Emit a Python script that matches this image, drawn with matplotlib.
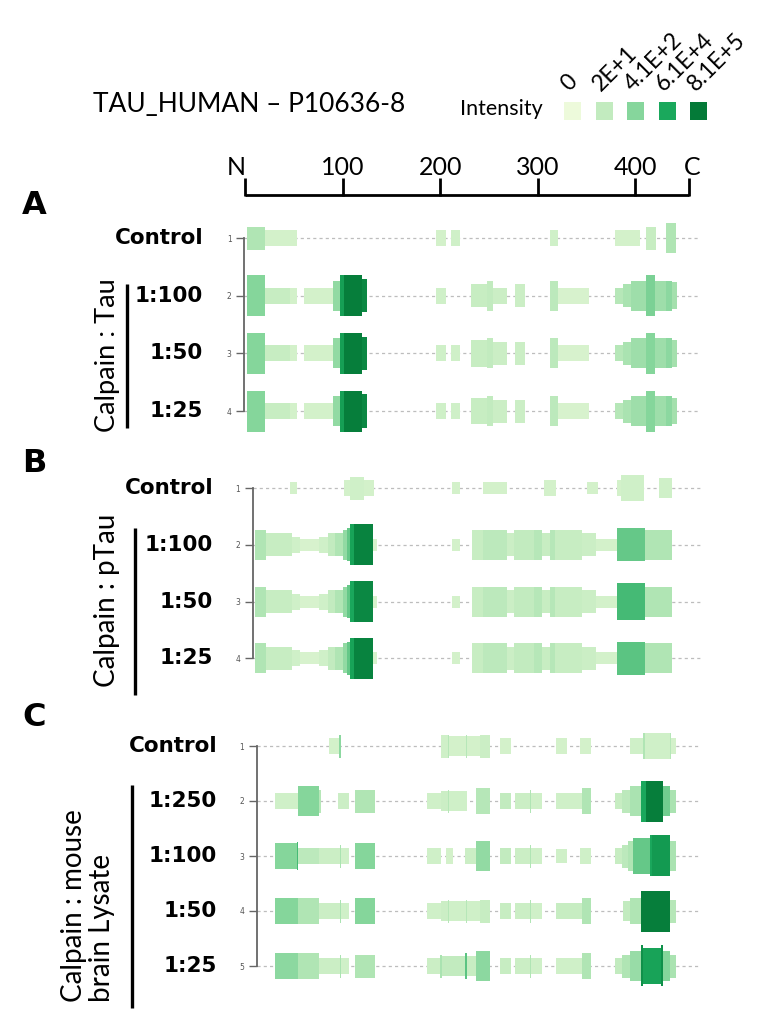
import numpy as np
import matplotlib
matplotlib.use("Agg")
import matplotlib.pyplot as plt
from matplotlib.colors import LinearSegmentedColormap

# ---- data: peptide coverage segments (start, end, depth, intensity level 0-4) ----
legend_labels = ["0", "2E+1", "4.1E+2", "6.1E+4", "8.1E+5"]
legend_colors = ["#edfadb", "#c2ebbf", "#86d69c", "#1aa85c", "#047a38"]
ruler_ticks = [0, 100, 200, 300, 400, 455]
ruler_labels = ["N", "100", "200", "300", "400", "C"]

rows_a = ["Control", "1:100", "1:50", "1:25"]
seg_a = [
    [(2, 20, 3, 1.3), (20, 53, 2, 0.6), (196, 206, 2, 0.6), (211, 220, 2, 0.7), (312, 321, 2, 0.7),
     (379, 405, 2, 0.6), (411, 421, 3, 0.9), (431, 442, 4, 1.3)],
    [(2, 20, 5, 2.0), (20, 46, 2, 0.9), (46, 53, 2, 0.6), (60, 90, 2, 0.6), (90, 97, 4, 1.8),
     (97, 101, 5, 3.2), (101, 120, 5, 3.9), (120, 125, 4.3, 3.7), (196, 206, 2, 0.7), (232, 248, 3, 0.9),
     (248, 254, 4, 1.0), (254, 268, 2, 0.8), (277, 287, 3, 0.8), (312, 321, 4, 1.1), (321, 352, 2, 0.5),
     (379, 387, 2, 1.2), (387, 395, 3, 1.4), (395, 411, 4, 1.6), (411, 420, 5, 2.1), (420, 431, 4, 1.6),
     (431, 437, 4, 1.9), (437, 443, 3.5, 1.5)],
    [(2, 20, 5, 2.0), (20, 46, 2, 0.9), (46, 53, 2, 0.6), (60, 90, 2, 0.6), (90, 97, 4, 1.8),
     (97, 101, 5, 3.2), (101, 120, 5, 3.9), (120, 125, 4.3, 3.7), (196, 206, 2, 0.7), (211, 220, 2, 0.7),
     (232, 248, 3.5, 0.9), (248, 254, 4, 1.0), (254, 268, 3, 0.8), (277, 287, 3, 0.8), (312, 321, 4, 1.1),
     (321, 352, 2, 0.5), (379, 387, 2, 1.2), (387, 395, 3, 1.4), (395, 411, 4, 1.6), (411, 420, 5, 2.0),
     (420, 431, 4, 1.6), (431, 437, 4, 1.9), (437, 443, 3.5, 1.5)],
    [(2, 20, 5, 2.0), (20, 46, 2, 0.9), (46, 53, 2, 0.6), (60, 90, 2, 0.6), (90, 97, 4, 1.8),
     (97, 101, 5, 3.2), (101, 120, 5, 3.9), (120, 125, 4.3, 3.7), (196, 206, 2, 0.7), (211, 220, 2, 0.7),
     (232, 248, 3.5, 0.9), (248, 254, 4, 1.0), (254, 268, 3, 0.8), (277, 287, 3, 0.8), (312, 321, 4, 1.1),
     (321, 352, 2, 0.5), (379, 387, 2, 1.2), (387, 395, 3, 1.4), (395, 411, 4, 1.6), (411, 420, 5, 2.0),
     (420, 431, 4, 1.6), (431, 437, 4, 1.9), (437, 443, 3.5, 1.5)],
]

rows_b = ["Control", "1:100", "1:50", "1:25"]
seg_b = [
    [(46, 53, 1, 0.6), (101, 108, 2, 0.6), (108, 122, 3, 0.7), (122, 132, 2, 0.6), (212, 220, 1, 0.6),
     (244, 268, 1, 0.6), (306, 319, 2, 0.6), (350, 362, 1, 0.6), (381, 385, 2, 0.6), (385, 409, 3.3, 0.7),
     (424, 437, 2.7, 0.7)],
    [(10, 22, 4, 1.3), (22, 48, 3, 0.9), (48, 56, 2, 0.7), (56, 76, 1, 0.5), (76, 85, 2, 0.7),
     (85, 92, 3, 1.0), (92, 100, 3, 1.3), (100, 104, 4, 1.8), (104, 108, 4.3, 2.3), (108, 112, 5, 3.1),
     (112, 131, 5, 3.8), (131, 135, 1, 0.5), (212, 220, 1, 0.6), (233, 244, 4, 0.9), (244, 268, 4, 1.1),
     (268, 276, 3, 0.8), (276, 296, 4, 1.0), (296, 304, 4, 1.2), (304, 312, 3, 0.9), (312, 318, 4, 1.2),
     (318, 345, 4, 0.9), (345, 360, 3, 0.8), (360, 381, 1, 0.6), (381, 410, 4.3, 2.3), (410, 437, 4, 1.3)],
    [(10, 22, 4, 1.3), (22, 48, 3, 0.9), (48, 56, 2, 0.7), (56, 76, 1, 0.5), (76, 85, 2, 0.7),
     (85, 92, 3, 1.0), (92, 100, 3, 1.3), (100, 104, 4, 1.8), (104, 108, 4.3, 2.3), (108, 112, 5, 3.0),
     (112, 131, 5, 3.7), (131, 135, 1, 0.5), (212, 220, 1, 0.6), (233, 244, 4, 0.9), (244, 268, 4, 1.1),
     (268, 276, 3, 0.8), (276, 296, 4, 1.0), (296, 304, 4, 1.2), (304, 312, 3, 0.9), (312, 318, 4, 1.2),
     (318, 345, 4, 0.9), (345, 360, 3, 0.8), (360, 381, 1, 0.6), (381, 410, 4.6, 2.6), (410, 437, 4, 1.3)],
    [(10, 22, 4, 1.3), (22, 48, 3, 0.9), (48, 56, 2, 0.7), (56, 76, 1, 0.5), (76, 85, 2, 0.7),
     (85, 92, 3, 1.0), (92, 100, 3, 1.3), (100, 104, 4, 1.8), (104, 108, 4.3, 2.3), (108, 112, 5, 3.1),
     (112, 131, 5, 3.8), (131, 135, 1, 0.5), (212, 220, 1, 0.6), (233, 244, 4, 0.9), (244, 268, 4, 1.1),
     (268, 276, 3, 0.8), (276, 296, 4, 1.0), (296, 304, 4, 1.2), (304, 312, 3, 0.9), (312, 318, 4, 1.2),
     (318, 345, 4, 0.9), (345, 360, 3, 0.8), (360, 381, 1, 0.6), (381, 410, 4.3, 2.4), (410, 437, 4, 1.3)],
]

rows_c = ["Control", "1:250", "1:100", "1:50", "1:25"]
seg_c = [
    [(86, 96, 2, 0.6), (96, 98, 3, 1.9), (201, 208, 3, 0.7), (208, 209.5, 3, 1.2), (209.5, 226, 2.5, 0.6),
     (226, 227.5, 3, 1.2), (227.5, 241, 2.5, 0.6), (241, 251, 3, 0.8), (261, 273, 2, 0.6), (319, 330, 2, 0.6),
     (343, 355, 2, 0.6), (394, 408, 2, 0.7), (408, 409.5, 3.3, 1.3), (409.5, 435, 3.3, 0.7),
     (435, 436.5, 3.3, 1.2), (436.5, 442, 2, 0.6)],
    [(31, 54, 2, 0.7), (54, 76, 4, 2.0), (76, 78, 3, 1.2), (95, 107, 2, 0.8), (113, 133, 3, 1.3),
     (186, 201, 2, 0.7), (201, 208, 2.5, 0.8), (208, 209.5, 3, 1.2), (209.5, 227, 2.5, 0.7), (237, 251, 3.5, 1.2),
     (261, 273, 2, 1.0), (277, 292, 2, 0.8), (292, 293.5, 3, 1.3), (293.5, 304, 2, 0.7), (319, 345, 2, 0.7),
     (345, 355, 3.5, 1.3), (379, 386, 2, 0.9), (386, 394, 3, 1.1), (394, 406, 4, 1.4), (406, 411, 5, 3.0),
     (411, 428, 5, 3.9), (428, 435, 4, 2.2), (435, 442, 3, 1.4)],
    [(31, 53, 3.5, 2.0), (53, 54.5, 3.6, 2.6), (54.5, 76, 2, 1.1), (76, 97, 2, 0.8), (97, 98.5, 3, 1.4),
     (98.5, 107, 2, 0.7), (113, 133, 3.5, 2.0), (186, 201, 2, 0.7), (206, 213, 2, 0.6), (225, 237, 2, 0.8),
     (237, 251, 4, 1.8), (261, 273, 2, 1.0), (277, 292, 2, 0.8), (292, 293.5, 3, 1.3), (293.5, 304, 2, 0.7),
     (319, 330, 1.5, 0.7), (343, 355, 2, 0.7), (379, 386, 2, 0.9), (386, 392, 3, 1.1), (392, 398, 4, 1.3),
     (398, 415, 4.5, 2.3), (415, 417, 5, 3.0), (417, 435, 5, 3.3), (435, 442, 4, 1.4)],
    [(31, 54, 3.5, 2.0), (54, 76, 3.5, 1.3), (76, 97, 2, 0.8), (97, 98.5, 3, 1.4), (98.5, 107, 2, 0.7),
     (113, 133, 3.5, 2.0), (186, 201, 2, 0.7), (201, 208, 2.5, 0.8), (208, 209.5, 3, 1.2), (209.5, 226, 2.5, 0.7),
     (226, 227.5, 3, 1.2), (227.5, 241, 2.5, 0.7), (241, 251, 3, 0.9), (261, 273, 2, 0.9), (277, 292, 2, 0.8),
     (292, 293.5, 3, 1.3), (293.5, 304, 2, 0.7), (319, 345, 2, 0.9), (345, 355, 3.5, 1.3), (387, 394, 2.5, 1.0),
     (394, 406, 3.5, 1.3), (406, 435, 5, 3.9), (435, 442, 3, 1.2)],
    [(31, 54, 3.5, 1.9), (54, 76, 3.5, 1.3), (76, 97, 2, 0.8), (97, 98.5, 3, 1.4), (98.5, 107, 2, 0.7),
     (113, 133, 3, 1.3), (186, 200, 2, 0.8), (200, 201.5, 3, 1.4), (201.5, 225, 2.5, 1.0), (225, 227, 3.5, 2.4),
     (227, 237, 2.5, 0.9), (237, 251, 4, 1.9), (261, 273, 2, 0.9), (277, 292, 2, 0.8), (292, 293.5, 3, 1.3),
     (293.5, 304, 2, 0.7), (319, 345, 2, 0.7), (345, 355, 3.5, 1.3), (379, 386, 2, 1.0), (386, 394, 3, 1.3),
     (394, 406, 4, 1.7), (406, 408, 5, 3.5), (408, 426, 4.5, 3.1), (426, 428, 5, 3.5), (428, 435, 4, 2.0),
     (435, 442, 3, 1.4)],
]

# ---- layout helpers (pixel coordinates, origin top-left) ----
W, H = 777, 1030
fig = plt.figure(figsize=(W / 100, H / 100), dpi=100)
cmap = LinearSegmentedColormap.from_list("cov", legend_colors)

X0_PX, PX_PER_RES = 245, 0.976
XL, XR = 200, 710
xlim = ((XL - X0_PX) / PX_PER_RES, (XR - X0_PX) / PX_PER_RES)


def px_axes(x0, y0, x1, y1):
    return fig.add_axes([x0 / W, 1 - y1 / H, (x1 - x0) / W, (y1 - y0) / H])


def depth_px(d):
    return np.interp(d, [1, 2, 3, 4, 5], [12, 16, 23, 30, 41])


def draw_panel(segs, y_first, spacing, bracket_res):
    n = len(segs)
    ax = px_axes(XL, y_first - 0.6 * spacing, XR, y_first + (n - 0.4) * spacing)
    ax.set_xlim(*xlim)
    ax.set_ylim(n + 0.6, 0.4)
    ax.patch.set_alpha(0)
    rows = np.arange(1, n + 1)
    ax.hlines(rows, bracket_res, 466, colors="#bdbdbd", linestyles=(0, (2.5, 2.5)),
              linewidth=0.9, zorder=1)
    for r, row in zip(rows, segs):
        s, e, d, v = (np.array(t, dtype=float) for t in zip(*row))
        ax.barh(r, e - s, left=s, height=depth_px(d) / spacing, color=cmap(v / 4),
                linewidth=0, zorder=2)
    for side in ["top", "right", "bottom"]:
        ax.spines[side].set_visible(False)
    ax.spines["left"].set_position(("data", bracket_res))
    ax.spines["left"].set_bounds(1, n)
    ax.spines["left"].set_color("#666666")
    ax.spines["left"].set_linewidth(1.3)
    ax.set_xticks([])
    ax.set_yticks(rows)
    ax.set_yticklabels([str(r) for r in rows])
    ax.tick_params(axis="y", length=6, width=1, color="#666666", labelsize=5.5,
                   labelcolor="#555555", pad=3)
    return ax


# overlay for text in pixel space
ov = px_axes(0, 0, W, H)
ov.set_xlim(0, W)
ov.set_ylim(H, 0)
ov.axis("off")

LATO = ["Lato", "DejaVu Sans"]

ov.text(93, 105, "TAU_HUMAN – P10636-8", fontsize=19, family=LATO, ha="left", va="center")
ov.text(460, 109, "Intensity", fontsize=15.5, family=LATO, ha="left", va="center")
leg_x = 564 + np.arange(len(legend_colors)) * 31.6
ov.bar(leg_x, 18, bottom=102, width=17, align="edge", color=legend_colors, linewidth=0)
for x, lab in zip(leg_x, legend_labels):
    ov.text(x + 8, 95, lab, fontsize=16.5, family=LATO, rotation=45, ha="left", va="bottom",
            rotation_mode="anchor")

# ruler N ... C
ru = px_axes(XL, 140, XR, 205)
ru.set_xlim(*xlim)
ru.set_ylim(205, 140)
ru.axis("off")
ru.plot([ruler_ticks[0], ruler_ticks[-1]], [195, 195], color="black", lw=2, solid_capstyle="butt")
ru.vlines(ruler_ticks, 178, 196, color="black", lw=2)
for t, lab in zip(ruler_ticks, ruler_labels):
    ha = "right" if lab == "N" else "center"
    ru.text(t + (1 if lab == "N" else 3 if lab == "C" else 0), 175, lab, fontsize=18,
            family=LATO, ha=ha, va="baseline")

# panels
panels = [
    ("A", rows_a, seg_a, 238, 57.7, -1, 205, 203),
    ("B", rows_b, seg_b, 488, 56.8, 8, 463, 213),
    ("C", rows_c, seg_c, 746, 55.0, 12, 718, 217),
]
for letter, names, segs, y_first, sp, bres, y_letter, x_lab in panels:
    draw_panel(segs, y_first, sp, bres)
    ov.text(22, y_letter, letter, fontsize=23, fontweight="bold", ha="left", va="center")
    for i, name in enumerate(names):
        ov.text(x_lab, y_first + i * sp, name, fontsize=15.5, fontweight="bold",
                ha="right", va="center")

# group labels
ov.text(107, 355, "Calpain : Tau", fontsize=19.5, family=LATO, rotation=90, ha="center", va="center")
ov.vlines(127, 284, 428, color="black", lw=2.4)
ov.text(107, 600, "Calpain : pTau", fontsize=20, family=LATO, rotation=90, ha="center", va="center")
ov.vlines(135, 528, 695, color="black", lw=2.4)
ov.text(88, 1002, "Calpain : mouse\nbrain Lysate", fontsize=20, family=LATO, rotation=90,
        ha="center", va="bottom", multialignment="left", linespacing=1.05)
ov.vlines(132, 785, 1008, color="black", lw=2.4)

fig.savefig("out.png", dpi=100)
